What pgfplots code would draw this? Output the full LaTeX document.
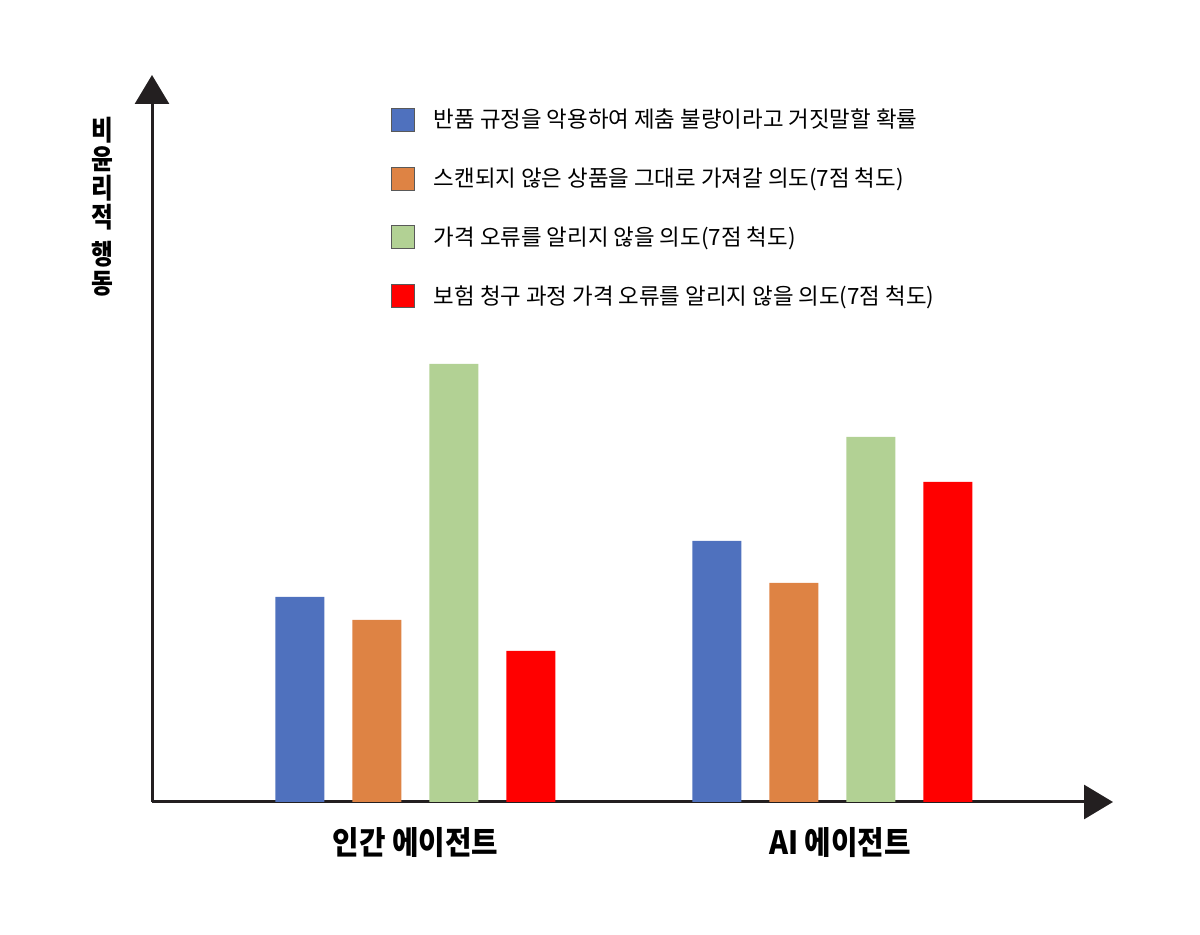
\documentclass[border=0pt]{standalone}
\usepackage{pgfplots}
\pgfplotsset{compat=1.18}
\usetikzlibrary{arrows.meta}
\usepackage{fontspec}
\setmainfont{Noto Sans CJK KR}
\newfontfamily\krcond{Noto Sans CJK KR}[FakeStretch=0.86]
\newfontfamily\krtick{Noto Sans CJK KR}[FakeStretch=0.9]

\definecolor{barblue}{RGB}{79,113,190}
\definecolor{barorange}{RGB}{222,131,68}
\definecolor{bargreen}{RGB}{178,209,148}
\definecolor{barred}{RGB}{255,0,0}
\definecolor{axiscol}{RGB}{35,31,32}

\begin{document}
\begin{tikzpicture}
    % page = 1200 x 935 px at 0.5pt per px
    \useasboundingbox (0,0) rectangle (600pt,467.5pt);
    \begin{axis}[
            at={(76pt,66.5pt)},
            anchor=south west,
            scale only axis,
            width=480.5pt,
            height=363.5pt,
            xmin=-0.632, xmax=1.673,
            ymin=0, ymax=7.27,
            axis lines=left,
            x axis line style={line width=1.5pt, color=axiscol, -{Triangle[length=14.5pt, width=17pt]}},
            y axis line style={line width=1.5pt, color=axiscol, -{Triangle[length=14.5pt, width=17pt]}},
            ybar=14pt,
            bar width=24.5pt,
            xtick={0,1.018},
            xticklabels={인간 에이전트, AI 에이전트},
            major tick length=0pt,
            ytick=\empty,
            xticklabel style={font=\krtick\bfseries\fontsize{16}{18}\selectfont, yshift=-9pt},
            ylabel={\lineskiplimit=-20pt\relax 비\\윤\\리\\적\\[3.5pt]행\\동},
            ylabel style={rotate=-90, align=center,
                    font=\krcond\bfseries\fontsize{13.8}{14.6}\selectfont,
                    at={(rel axis cs:-0.052,0.819)}, anchor=center},
            legend style={
                    at={(rel axis cs:0.2425,0.965)},
                    anchor=north west,
                    draw=none,
                    fill=none,
                    font=\fontsize{11.2}{12.5}\selectfont,
                    row sep=14.6pt,
                    cells={anchor=west},
                },
            legend image code/.code={
                    \draw[#1, draw=black!65] (0pt,-5.75pt) rectangle (11.5pt,5.75pt);
                    \path (19pt,0pt);
                },
            legend cell align=left,
        ]
        \addplot[fill=barblue, draw=none] coordinates {(0,2.05) (1,2.61)};
        \addplot[fill=barorange, draw=none] coordinates {(0,1.82) (1,2.19)};
        \addplot[fill=bargreen, draw=none] coordinates {(0,4.38) (1,3.65)};
        \addplot[fill=barred, draw=none] coordinates {(0,1.51) (1,3.20)};
        \legend{반품 규정을 악용하여 제춤 불량이라고 거짓말할 확률,
            스캔되지 않은 상품을 그대로 가져갈 의도(7점 척도),
            가격 오류를 알리지 않을 의도(7점 척도),
            보험 청구 과정 가격 오류를 알리지 않을 의도(7점 척도)}
    \end{axis}
\end{tikzpicture}
\end{document}
